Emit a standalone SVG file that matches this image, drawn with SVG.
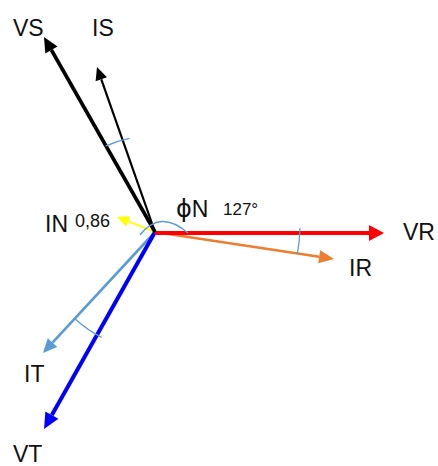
<svg xmlns="http://www.w3.org/2000/svg" width="438" height="466" viewBox="0 0 438 466">
  <style>
    .lbl { font-family: "Liberation Sans", Arial, sans-serif; font-size: 23px; fill: #111; }
    .small { font-family: "Liberation Sans", Arial, sans-serif; font-size: 18px; fill: #111; }
    .vec { fill: none; stroke-linecap: butt; }
    .arc { fill: none; stroke: #5B9BD5; stroke-width: 1.3; }
  </style>
  <defs>
    <marker id="hBlack" markerUnits="userSpaceOnUse" markerWidth="16" markerHeight="14" refX="0" refY="7" orient="auto" overflow="visible">
      <path d="M0,0 L15,7 L0,14 z" fill="#000"/>
    </marker>
    <marker id="hBlackS" markerUnits="userSpaceOnUse" markerWidth="14" markerHeight="12" refX="0" refY="6" orient="auto" overflow="visible">
      <path d="M0,0 L13,6 L0,12 z" fill="#000"/>
    </marker>
    <marker id="hRed" markerUnits="userSpaceOnUse" markerWidth="16" markerHeight="16" refX="0" refY="8" orient="auto" overflow="visible">
      <path d="M0,0 L15,8 L0,16 z" fill="#FF0000"/>
    </marker>
    <marker id="hOrange" markerUnits="userSpaceOnUse" markerWidth="16" markerHeight="13" refX="0" refY="6.5" orient="auto" overflow="visible">
      <path d="M0,0 L15,6.5 L0,13 z" fill="#ED7D31"/>
    </marker>
    <marker id="hLBlue" markerUnits="userSpaceOnUse" markerWidth="15" markerHeight="13" refX="0" refY="6.5" orient="auto" overflow="visible">
      <path d="M0,0 L14,6.5 L0,13 z" fill="#5B9BD5"/>
    </marker>
    <marker id="hBlue" markerUnits="userSpaceOnUse" markerWidth="17" markerHeight="15" refX="0" refY="7.5" orient="auto" overflow="visible">
      <path d="M0,0 L16,7.5 L0,15 z" fill="#0000FF"/>
    </marker>
    <marker id="hYellow" markerUnits="userSpaceOnUse" markerWidth="13" markerHeight="11" refX="0" refY="5.5" orient="auto" overflow="visible">
      <path d="M0,0 L12,5.5 L0,11 z" fill="#FFFF00"/>
    </marker>
  </defs>

  <g id="connectors">
    <line id="vec-IN" class="vec" x1="155" y1="232" x2="128.2" y2="221.4" stroke="#FFFF00" stroke-width="1.8" marker-end="url(#hYellow)"/>
    <line id="vec-IT" class="vec" x1="155" y1="232" x2="52.5" y2="342.7" stroke="#5B9BD5" stroke-width="2.6" marker-end="url(#hLBlue)"/>
    <line id="vec-VT" class="vec" x1="155" y1="232" x2="51.9" y2="415.1" stroke="#0000FF" stroke-width="4" marker-end="url(#hBlue)"/>
    <line id="vec-IR" class="vec" x1="155" y1="232" x2="319.2" y2="256.8" stroke="#ED7D31" stroke-width="2.6" marker-end="url(#hOrange)"/>
    <line id="vec-VR" class="vec" x1="155" y1="233" x2="369" y2="233" stroke="#FF0000" stroke-width="4" marker-end="url(#hRed)"/>
    <line id="vec-IS" class="vec" x1="155" y1="232" x2="101.3" y2="79.3" stroke="#000" stroke-width="2.2" marker-end="url(#hBlackS)"/>
    <line id="vec-VS" class="vec" x1="155" y1="232" x2="51.4" y2="50" stroke="#000" stroke-width="3.6" marker-end="url(#hBlack)"/>
  </g>

  <g id="angles">
    <path id="arc-S" class="arc" d="M105.6,146.1 A99,99 0 0 1 129.5,138.3"/>
    <path id="arc-N" class="arc" d="M140,235 Q160,209 188,233"/>
    <path id="arc-R" class="arc" d="M299.9,228.2 A145,145 0 0 1 297.4,253.5"/>
    <path id="arc-T" class="arc" d="M75.2,319.0 A118,118 0 0 0 101.6,337.3"/>
  </g>

  <g id="node-VS"><text class="lbl" x="13" y="36">VS</text></g>
  <g id="node-IS"><text class="lbl" x="92" y="36">IS</text></g>
  <g id="node-IN"><text class="lbl" x="45" y="232">IN</text><text class="small" x="75" y="227">0,86</text></g>
  <g id="node-phiN"><text class="lbl" x="176" y="217"><tspan style="font-family:'DejaVu Sans', sans-serif; font-size:24px">ϕ</tspan>N</text><text class="small" x="223" y="215" style="font-size:17px">127°</text></g>
  <g id="node-VR"><text class="lbl" x="403" y="240">VR</text></g>
  <g id="node-IR"><text class="lbl" x="349" y="276">IR</text></g>
  <g id="node-IT"><text class="lbl" x="24" y="382">IT</text></g>
  <g id="node-VT"><text class="lbl" x="13" y="462">VT</text></g>
</svg>
